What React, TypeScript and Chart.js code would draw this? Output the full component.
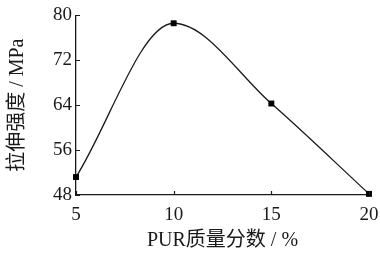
import { useEffect, useRef } from "react";
import { Chart, registerables } from "chart.js";
Chart.register(...registerables);

const purContent = [5, 10, 15, 20];
const tensileStrength = [51.2, 78.6, 64.3, 48.2];
const xTickValues = [5, 10, 15, 20];
const yTickValues = [48, 56, 64, 72, 80];
const xTitle = "PUR质量分数 / %";
const yTitle = "拉伸强度 / MPa";

const INK = "#1a1a1a";
const FONT = "'Liberation Serif', 'Noto Sans CJK SC', serif";

const inwardTicks = {
  id: "inwardTicks",
  afterDraw(chart: any) {
    const { ctx } = chart;
    const xs = chart.scales.x;
    const ys = chart.scales.y;
    const area = chart.chartArea;
    ctx.save();
    ctx.strokeStyle = INK;
    ctx.lineWidth = 1.2;
    ctx.beginPath();
    yTickValues.forEach((v) => {
      const y = Math.round(ys.getPixelForValue(v)) + 0.5;
      ctx.moveTo(area.left, y);
      ctx.lineTo(area.left + 4, y);
    });
    xTickValues.forEach((v) => {
      const x = Math.round(xs.getPixelForValue(v)) + 0.5;
      ctx.moveTo(x, area.bottom);
      ctx.lineTo(x, area.bottom - 4);
    });
    ctx.stroke();
    ctx.restore();
  },
};

export default function App() {
  const ref = useRef<HTMLCanvasElement>(null);
  useEffect(() => {
    if (!ref.current) return;
    const chart = new Chart(ref.current, {
      type: "line",
      data: {
        datasets: [
          {
            data: purContent.map((x, i) => ({ x, y: tensileStrength[i] })),
            borderColor: INK,
            borderWidth: 1.3,
            backgroundColor: INK,
            pointStyle: "rect",
            pointRadius: 4.2,
            pointBorderWidth: 0,
            pointBackgroundColor: "#000",
            cubicInterpolationMode: "monotone",
            clip: false as any,
          },
        ],
      },
      options: {
        responsive: false,
        devicePixelRatio: 1,
        animation: false,
        layout: { padding: { top: 13, right: 11, left: 0, bottom: 0 } },
        plugins: { legend: { display: false }, tooltip: { enabled: false } },
        scales: {
          x: {
            type: "linear",
            min: 5,
            max: 20,
            afterBuildTicks: (s: any) => {
              s.ticks = xTickValues.map((v) => ({ value: v }));
            },
            afterFit: (s: any) => {
              s.height = 60;
              s.paddingLeft = 0;
              s.paddingRight = 0;
            },
            grid: { display: false, drawTicks: false, tickLength: 0 },
            border: { display: true, color: INK, width: 1.3 },
            ticks: {
              color: INK,
              padding: 9,
              maxRotation: 0,
              font: { family: FONT, size: 19 },
              callback: (v: any) => String(v),
            },
            title: {
              display: true,
              text: xTitle,
              color: INK,
              font: { family: FONT, size: 20 },
              padding: { top: 0, bottom: 2 },
            },
          },
          y: {
            type: "linear",
            min: 48,
            max: 80,
            afterBuildTicks: (s: any) => {
              s.ticks = yTickValues.map((v) => ({ value: v }));
            },
            afterFit: (s: any) => {
              s.width = 76;
            },
            grid: { display: false, drawTicks: false, tickLength: 0 },
            border: { display: true, color: INK, width: 1.3 },
            ticks: {
              color: INK,
              padding: 4,
              font: { family: FONT, size: 19 },
              callback: (v: any) => String(v),
            },
            title: {
              display: true,
              text: yTitle,
              color: INK,
              font: { family: FONT, size: 20 },
              padding: { top: 6, bottom: 0 },
            },
          },
        },
      },
      plugins: [inwardTicks],
    });
    return () => chart.destroy();
  }, []);
  return (
    <canvas
      ref={ref}
      width={380}
      height={255}
      style={{ position: "absolute", left: 0, top: 0, background: "#fff" }}
    />
  );
}
